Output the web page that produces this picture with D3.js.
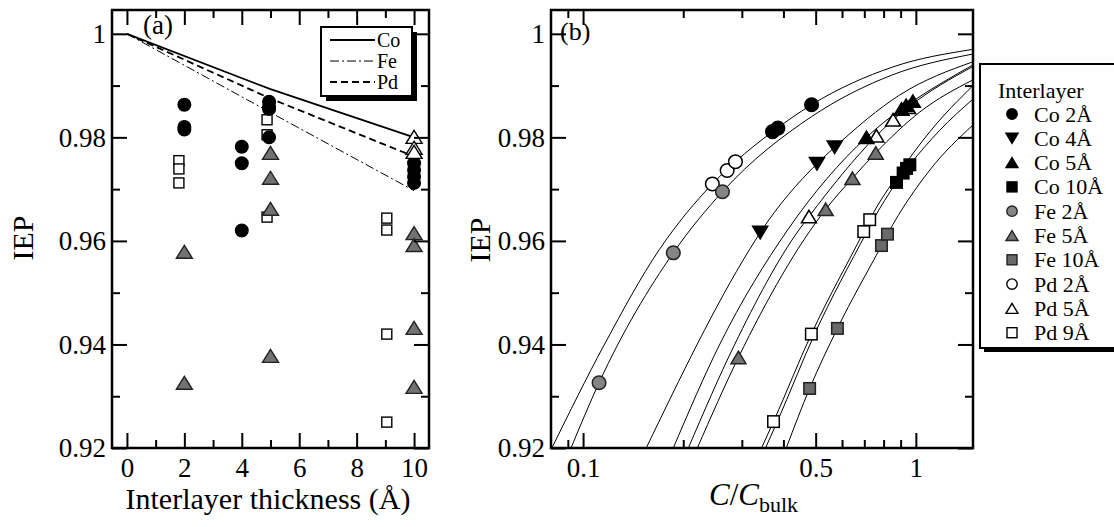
<!DOCTYPE html>
<html><head><meta charset="utf-8">
<script src="https://cdn.jsdelivr.net/npm/d3@7"></script>
<style>
body{margin:0;background:#fff}
svg{display:block}
</style>
</head><body>
<svg id="chart" width="1114" height="527"></svg>
<script>
// ---------- tick data ----------
const thickTicks = [0, 2, 4, 6, 8, 10];
const thickMinor = [1, 3, 5, 7, 9];
const iepTicks = [0.92, 0.94, 0.96, 0.98, 1];
const iepMinor = [0.93, 0.95, 0.97, 0.99];
const iepLabels = ["0.92", "0.94", "0.96", "0.98", "1"];
const concTicks = [0.1, 0.5, 1];
const concMinor = [0.09, 0.2, 0.3, 0.4, 0.6, 0.7, 0.8, 0.9];
const concLabels = ["0.1", "0.5", "1"];

// ---------- panel (a): model lines ----------
const lineThick = [0, 5, 10];
const lineCo = [1, 0.9893, 0.9800];
const lineFe = [1, 0.9848, 0.9697];
const linePd = [1, 0.9875, 0.9763];
const lineNames = ["Co", "Fe", "Pd"];

// ---------- panel (a): points [thickness, IEP] ----------
const aCo = [[2,0.9863],[2,0.9820],[2,0.9815],[4,0.9782],[4,0.9750],[4,0.9620],
             [4.95,0.9869],[4.95,0.9859],[4.95,0.9855],[4.95,0.9800],
             [10,0.9750],[10,0.9737],[10,0.9724],[10,0.9712]];
const aFe = [[2,0.9579],[2,0.9326],[5,0.9770],[5,0.9722],[5,0.9662],[5,0.9378],
             [10,0.9615],[10,0.9592],[10,0.9432],[10,0.9318]];
const aPd = [[1.81,0.9755],[1.81,0.9739],[1.81,0.9712],[4.88,0.9834],[4.88,0.9805],[4.88,0.9646],
             [9.05,0.9644],[9.05,0.9621],[9.05,0.9420],[9.05,0.9250]];
const aPdTri = [[10,0.9801],[10,0.9780],[10,0.9772]];

// ---------- panel (b): points [C/Cbulk, IEP] ----------
const legendNames = ["Co 2Å","Co 4Å","Co 5Å","Co 10Å","Fe 2Å","Fe 5Å","Fe 10Å","Pd 2Å","Pd 5Å","Pd 9Å"];
const bCo2  = [[0.371,0.9811],[0.385,0.9818],[0.486,0.9863]];
const bCo4  = [[0.3406,0.9616],[0.5044,0.9749],[0.5703,0.9781]];
const bCo5  = [[0.7104,0.9800],[0.9057,0.9855],[0.935,0.9862],[0.9794,0.9870]];
const bCo10 = [[0.8748,0.9713],[0.9158,0.9731],[0.9376,0.9740],[0.9593,0.9747]];
const bFe2  = [[0.1117,0.9326],[0.1867,0.9577],[0.2623,0.9695]];
const bFe5  = [[0.293,0.9375],[0.5358,0.9661],[0.6448,0.9721],[0.7577,0.9770]];
const bFe10 = [[0.4795,0.9315],[0.5811,0.9431],[0.7883,0.9591],[0.8218,0.9613]];
const bPd2  = [[0.2446,0.9710],[0.271,0.9736],[0.287,0.9753]];
const bPd5  = [[0.4772,0.9647],[0.7614,0.9803],[0.8543,0.9834],[0.948,0.9858]];
const bPd9  = [[0.3735,0.9251],[0.4852,0.9420],[0.6972,0.9618],[0.7267,0.9641]];

// ---------- panel (b): fitted curves ----------
const fitCoPd2 = [[0.0806,0.92],[0.1157,0.9399],[0.1694,0.9583],[0.2446,0.9710],[0.287,0.9753],[0.371,0.9811],[0.486,0.9863],[0.853,0.9936],[1.485,0.9970]];
const fitFe2  = [[0.092,0.92],[0.1117,0.9326],[0.1867,0.9577],[0.2623,0.9695],[0.486,0.9840],[0.853,0.9921],[1.485,0.9961]];
const fitCo4  = [[0.1548,0.92],[0.3162,0.9583],[0.3406,0.9616],[0.5044,0.9749],[0.5703,0.9781],[0.895,0.9882],[1.485,0.9946]];
const fitCo5  = [[0.1867,0.92],[0.2569,0.9399],[0.4116,0.9621],[0.7104,0.9800],[0.9057,0.9855],[0.9794,0.9870],[1.485,0.9940]];
const fitPd5  = [[0.2072,0.92],[0.285,0.9399],[0.4451,0.9621],[0.4772,0.9647],[0.7614,0.9803],[0.8543,0.9834],[0.948,0.9858],[1.485,0.9937]];
const fitFe5  = [[0.2205,0.92],[0.293,0.9375],[0.5358,0.9661],[0.6448,0.9721],[0.7577,0.9770],[1.028,0.9849],[1.485,0.9911]];
const fitPd9  = [[0.3438,0.92],[0.3735,0.9251],[0.4852,0.9420],[0.6972,0.9618],[0.7267,0.9641],[0.895,0.9733],[1.102,0.9811],[1.485,0.9900]];
const fitCo10 = [[0.3534,0.92],[0.384,0.9252],[0.4963,0.9420],[0.7118,0.9617],[0.7422,0.9639],[0.8748,0.9713],[0.9593,0.9747],[1.181,0.9814],[1.485,0.9874]];
const fitFe10 = [[0.4079,0.92],[0.4795,0.9315],[0.5811,0.9431],[0.7883,0.9591],[0.8218,0.9613],[1.102,0.9737],[1.485,0.9824]];

// ---------- layout ----------
const SERIF = "'Liberation Serif', 'Times New Roman', Times, serif";
const svg = d3.select("#chart");
const TOP = 10, BOT = 448;
const A = {l:112, r:429}, B = {l:551, r:973};
const FONT_T = 27, FONT_L = 30;
const MAJ = 15, MIN = 8;

const y = d3.scaleLinear().domain([0.92, 1.0046]).range([BOT, TOP]);
const xa = d3.scaleLinear().domain([-0.52, 10.52]).range([A.l, A.r]);
const xb = d3.scaleLog().domain([0.0801, 1.485]).range([B.l, B.r]);

const BLACK = "#000", GRAY_C = "#858585", GRAY_T = "#727272", GRAY_S = "#6a6a6a", EDGE = "#222";

function txt(sel){ return sel.style("font-family", SERIF).attr("fill","#000"); }

function styleAxis(g){
  g.attr("font-family", null);
  g.select(".domain").remove();
  g.selectAll(".tick line").attr("stroke","#000").attr("stroke-width",2);
  g.selectAll(".tick text").attr("font-size",FONT_T).style("font-family",SERIF).attr("fill","#000");
}
function axes(x, left, right, majX, minX, labX){
  svg.append("g").attr("transform",`translate(0,${BOT})`)
    .call(d3.axisBottom(x).tickValues(majX).tickSize(-MAJ).tickPadding(10).tickFormat((d,i)=>labX[i])).call(styleAxis);
  svg.append("g").attr("transform",`translate(0,${BOT})`)
    .call(d3.axisBottom(x).tickValues(minX).tickSize(-MIN).tickFormat("")).call(styleAxis);
  svg.append("g").attr("transform",`translate(0,${TOP})`)
    .call(d3.axisTop(x).tickValues(majX).tickSize(-MAJ).tickFormat("")).call(styleAxis);
  svg.append("g").attr("transform",`translate(0,${TOP})`)
    .call(d3.axisTop(x).tickValues(minX).tickSize(-MIN).tickFormat("")).call(styleAxis);
  svg.append("g").attr("transform",`translate(${left},0)`)
    .call(d3.axisLeft(y).tickValues(iepTicks).tickSize(-MAJ).tickPadding(6).tickFormat((d,i)=>iepLabels[i])).call(styleAxis);
  svg.append("g").attr("transform",`translate(${left},0)`)
    .call(d3.axisLeft(y).tickValues(iepMinor).tickSize(-MIN).tickFormat("")).call(styleAxis);
  svg.append("g").attr("transform",`translate(${right},0)`)
    .call(d3.axisRight(y).tickValues(iepTicks).tickSize(-MAJ).tickFormat("")).call(styleAxis);
  svg.append("g").attr("transform",`translate(${right},0)`)
    .call(d3.axisRight(y).tickValues(iepMinor).tickSize(-MIN).tickFormat("")).call(styleAxis);
  svg.append("rect").attr("x",left).attr("y",TOP).attr("width",right-left).attr("height",BOT-TOP)
    .attr("fill","none").attr("stroke","#000").attr("stroke-width",2.5);
}

// ---------- marker helpers ----------
function triPath(w,h,down){
  return down ? `M0,${h/2}L${w/2},${-h/2}L${-w/2},${-h/2}Z` : `M0,${-h/2}L${w/2},${h/2}L${-w/2},${h/2}Z`;
}
function drawMarker(g, shape, fill, stroke, cx, cy, sz){
  if(shape==="circle"){
    g.append("circle").attr("cx",cx).attr("cy",cy).attr("r",sz.r).attr("fill",fill).attr("stroke",stroke).attr("stroke-width",sz.sw);
  } else if(shape==="square"){
    g.append("rect").attr("x",cx-sz.s/2).attr("y",cy-sz.s/2).attr("width",sz.s).attr("height",sz.s)
      .attr("fill",fill).attr("stroke",stroke).attr("stroke-width",sz.sw);
  } else {
    g.append("path").attr("transform",`translate(${cx},${cy})`).attr("d",triPath(sz.w,sz.h,shape==="down"))
      .attr("fill",fill).attr("stroke",stroke).attr("stroke-width",sz.sw).attr("stroke-linejoin","miter");
  }
}

// ================= PANEL (a) =================
const ga = svg.append("g");
const lineA = d3.line().x((d,i)=>xa(lineThick[i])).y(d=>y(d));
ga.append("path").attr("d",lineA(lineCo)).attr("fill","none").attr("stroke","#000").attr("stroke-width",1.8);
ga.append("path").attr("d",lineA(lineFe)).attr("fill","none").attr("stroke","#000").attr("stroke-width",1).attr("stroke-dasharray","9,3,2,3");
ga.append("path").attr("d",lineA(linePd)).attr("fill","none").attr("stroke","#000").attr("stroke-width",1.8).attr("stroke-dasharray","7,4");

const szA = {r:6.3, s:10, w:16, h:13, sw:1.4};
aPd.forEach(d=>drawMarker(ga,"square","#fff","#000",xa(d[0]),y(d[1]),szA));
aCo.forEach(d=>drawMarker(ga,"circle","#000","#000",xa(d[0]),y(d[1]),szA));
aFe.forEach(d=>drawMarker(ga,"up",GRAY_T,EDGE,xa(d[0]),y(d[1]),szA));
aPdTri.forEach(d=>drawMarker(ga,"up","#fff","#000",xa(d[0]),y(d[1]),szA));

axes(xa, A.l, A.r, thickTicks, thickMinor, thickTicks.map(String));

// legend (a)
const la = svg.append("g");
la.append("rect").attr("x",326).attr("y",32).attr("width",91).attr("height",69).attr("fill","#000");
la.append("rect").attr("x",321).attr("y",27).attr("width",91).attr("height",69).attr("fill","#fff").attr("stroke","#000").attr("stroke-width",2);
const dashes = [null, "9,3,2,3", "7,4"], widths=[1.8,1,1.8];
lineNames.forEach((n,i)=>{
  const yy = 40 + i*21;
  la.append("line").attr("x1",330).attr("x2",375).attr("y1",yy).attr("y2",yy).attr("stroke","#000")
    .attr("stroke-width",widths[i]).attr("stroke-dasharray",dashes[i]);
  txt(la.append("text").attr("x",377).attr("y",yy+6.5).attr("font-size",20).text(n));
});

// labels (a)
txt(svg.append("text").attr("x",143).attr("y",34).attr("font-size",FONT_T).text("(a)"));
txt(svg.append("text").attr("x",268).attr("y",509).attr("text-anchor","middle").attr("font-size",FONT_L).text("Interlayer thickness (Å)"));
txt(svg.append("text").attr("transform","translate(33,238) rotate(-90)").attr("text-anchor","middle").attr("font-size",FONT_L).text("IEP"));

// ================= PANEL (b) =================
const gb = svg.append("g");
svg.append("clipPath").attr("id","clipb").append("rect").attr("x",B.l).attr("y",TOP).attr("width",B.r-B.l).attr("height",BOT-TOP);
const curveGen = d3.line().x(d=>xb(d[0])).y(d=>y(d[1])).curve(d3.curveMonotoneX);
const fits = [fitCoPd2, fitFe2, fitCo4, fitCo5, fitPd5, fitFe5, fitPd9, fitCo10, fitFe10];
gb.append("g").attr("clip-path","url(#clipb)").selectAll("path").data(fits).join("path")
  .attr("d",curveGen).attr("fill","none").attr("stroke","#000").attr("stroke-width",1);

const seriesPts = [bCo2,bCo4,bCo5,bCo10,bFe2,bFe5,bFe10,bPd2,bPd5,bPd9];
const shapes = ["circle","down","up","square","circle","up","square","circle","up","square"];
const fills = [BLACK,BLACK,BLACK,BLACK,GRAY_C,GRAY_T,GRAY_S,"#fff","#fff","#fff"];
const strokes = ["#000","#000","#000","#000",EDGE,EDGE,EDGE,"#000","#000","#000"];
const szB = {r:6.8, s:11.5, w:15, h:12.5, sw:1.5};
const drawOrder = [7,8,9,4,5,6,0,1,2,3];
drawOrder.forEach(k=>{
  seriesPts[k].forEach(d=>drawMarker(gb,shapes[k],fills[k],strokes[k],xb(d[0]),y(d[1]),szB));
});

axes(xb, B.l, B.r, concTicks, concMinor, concLabels);

txt(svg.append("text").attr("x",560).attr("y",40).attr("font-size",26).text("(b)"));
txt(svg.append("text").attr("transform","translate(490,240) rotate(-90)").attr("text-anchor","middle").attr("font-size",FONT_L).text("IEP"));
const xt = txt(svg.append("text").attr("x",709).attr("y",505).attr("font-size",31));
xt.append("tspan").attr("font-style","italic").text("C");
xt.append("tspan").text("/");
xt.append("tspan").attr("font-style","italic").text("C");
xt.append("tspan").attr("font-size",22).attr("dy",7).text("bulk");

// legend (b)
const lb = svg.append("g");
lb.append("rect").attr("x",984).attr("y",68).attr("width",150).attr("height",284).attr("fill","#000");
lb.append("rect").attr("x",980).attr("y",64).attr("width",150).attr("height",284).attr("fill","#fff").attr("stroke","#000").attr("stroke-width",2);
txt(lb.append("text").attr("x",998).attr("y",98).attr("font-size",22).text("Interlayer"));
const szL = {r:5.2, s:10, w:12, h:10, sw:1.4};
legendNames.forEach((n,i)=>{
  const yy = 114 + i*24.3;
  drawMarker(lb, shapes[i], fills[i], strokes[i], 1012, yy, szL);
  txt(lb.append("text").attr("x",1034).attr("y",yy+7.5).attr("font-size",22).text(n));
});
</script>
</body></html>
